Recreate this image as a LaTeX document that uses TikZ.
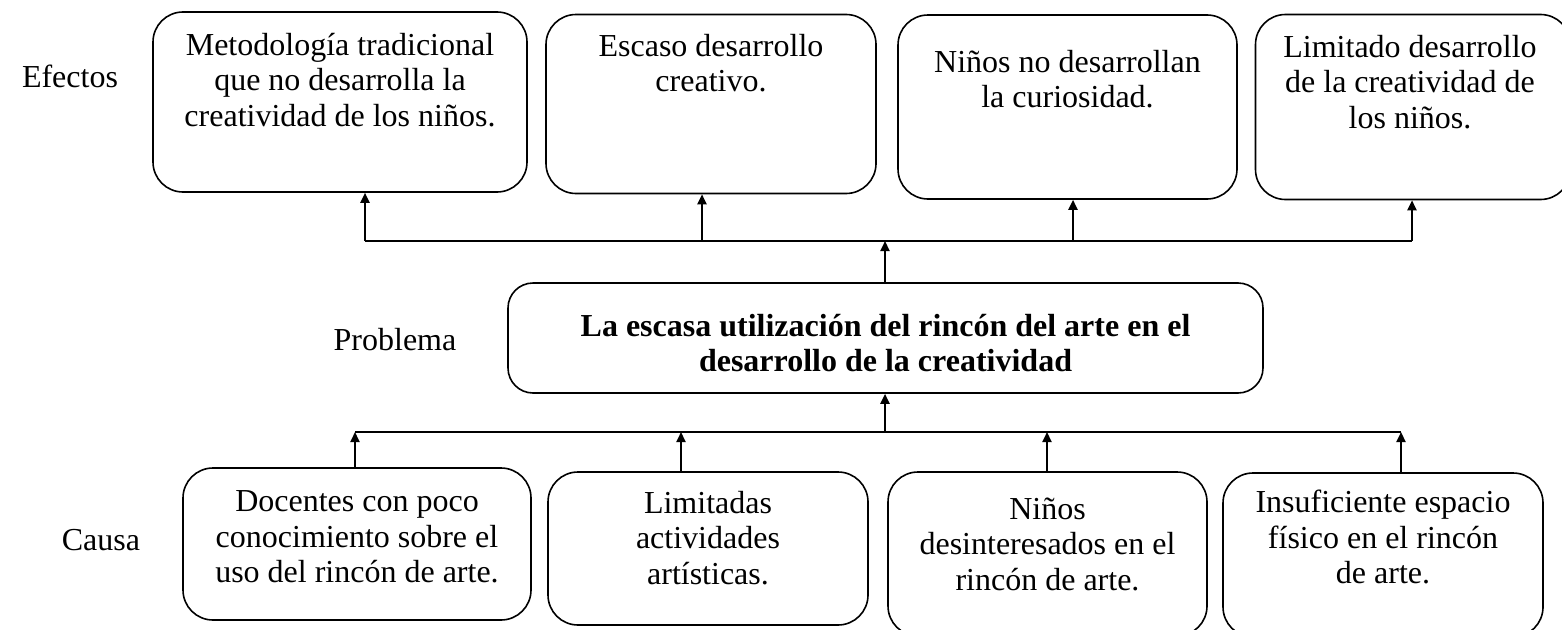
\documentclass[tikz,border=0pt]{standalone}
\usepackage{fontspec}
\setmainfont{Liberation Serif}
\usetikzlibrary{arrows.meta}
\begin{document}
\begin{tikzpicture}[x=1pt,y=-1pt,
  frame/.style={draw=black,line width=1.6pt,rounded corners=30pt,inner sep=0pt},
  txt/.style={align=center,font=\fontsize{32}{35.5}\selectfont,inner sep=0pt},
  lbl/.style={font=\fontsize{32}{35.5}\selectfont,inner sep=0pt},
  link/.style={line width=2pt},
  arr/.style={line width=2pt,-{Triangle[length=10pt,width=9pt]}}]
\useasboundingbox (0,0) rectangle (1562,629);
\clip (0,0) rectangle (1562,629);
% effect boxes
\node[frame,minimum width=374pt,minimum height=180pt] (e1) at (340,102) {};
\node[frame,minimum width=330pt,minimum height=179pt] (e2) at (711,104) {};
\node[frame,minimum width=339pt,minimum height=184pt] (e3) at (1067.5,107) {};
\node[frame,minimum width=315pt,minimum height=185pt] (e4) at (1413,107) {};
\node[txt] (te1) at (340,80) {Metodología tradicional\\que no desarrolla la\\creatividad de los niños.};
\node[txt] (te2) at (711,63) {Escaso desarrollo\\creativo.};
\node[txt] (te3) at (1067.5,79) {Niños no desarrollan\\la curiosidad.};
\node[txt] (te4) at (1410,82) {Limitado desarrollo\\de la creatividad de\\los niños.};
% problem
\node[frame,rounded corners=25pt,minimum width=755pt,minimum height=110pt] (p) at (885.5,338) {};
\node[txt,font=\fontsize{32}{35.5}\selectfont\bfseries] (tp) at (885.5,343) {La escasa utilización del rincón del arte en el\\desarrollo de la creatividad};
% cause boxes
\node[frame,minimum width=348pt,minimum height=152pt] (c1) at (357,544) {};
\node[frame,minimum width=320pt,minimum height=153pt] (c2) at (708,548.5) {};
\node[frame,minimum width=319pt,minimum height=164pt] (c3) at (1047.5,554) {};
\node[frame,minimum width=320pt,minimum height=164pt] (c4) at (1383,555) {};
\node[txt] (tc1) at (357,537) {Docentes con poco\\conocimiento sobre el\\uso del rincón de arte.};
\node[txt] (tc2) at (708,538) {Limitadas\\actividades\\artísticas.};
\node[txt] (tc3) at (1047.5,544) {Niños\\desinteresados en el\\rincón de arte.};
\node[txt] (tc4) at (1383,537) {Insuficiente espacio\\físico en el rincón\\de arte.};
% row labels
\node[lbl] (le) at (70,76) {Efectos};
\node[lbl] (lp) at (395,340) {Problema};
\node[lbl] (lc) at (101,540) {Causa};
% junctions
\coordinate (ja1) at (365,241);
\coordinate (ja2) at (702,241);
\coordinate (ja3) at (1073,241);
\coordinate (ja4) at (1412,241);
\coordinate (jp) at (885,241);
\coordinate (jb1) at (355,432);
\coordinate (jb2) at (681,432);
\coordinate (jb3) at (1047,432);
\coordinate (jb4) at (1401,432);
\coordinate (jq) at (885,432);
\draw[link] (ja1) -- (ja4);
\draw[link] (jb1) -- (jb4);
\draw[arr] (ja1) -- (ja1 |- e1.south);
\draw[arr] (ja2) -- (ja2 |- e2.south);
\draw[arr] (ja3) -- (ja3 |- e3.south);
\draw[arr] (ja4) -- (ja4 |- e4.south);
\draw[arr] (jp |- p.north) -- (jp);
\draw[arr] (jq) -- (jq |- p.south);
\draw[arr] (jb1 |- c1.north) -- (jb1);
\draw[arr] (jb2 |- c2.north) -- (jb2);
\draw[arr] (jb3 |- c3.north) -- (jb3);
\draw[arr] (jb4 |- c4.north) -- (jb4);
\end{tikzpicture}
\end{document}
